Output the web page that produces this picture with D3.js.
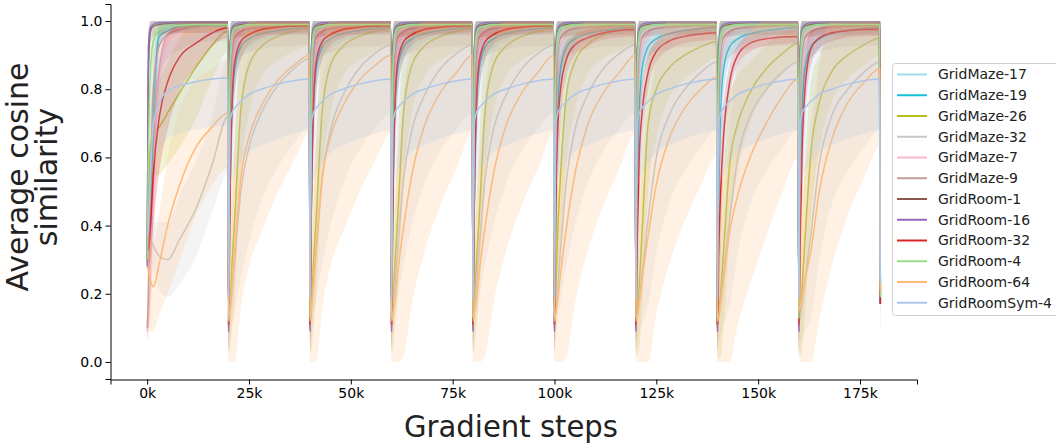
<!DOCTYPE html>
<html>
<head>
<meta charset="utf-8">
<script src="https://cdn.jsdelivr.net/npm/d3@7"></script>
<style>
	body { margin: 0; background: #fff; }
	svg { display: block; }
	text { font-family: "DejaVu Sans", sans-serif; }
</style>
</head>
<body>
<div id="chart"></div>
<script>
const offsets = [0, 300, 800, 1500, 3000, 5000, 8000, 12000, 16000, 19800];
const segmentStarts = [0, 20000, 40000, 60000, 80000, 100000, 120000, 140000, 160000];
const finalStep = 180000;

const seriesNames = [
	"GridMaze-17", "GridMaze-19", "GridMaze-26", "GridMaze-32", "GridMaze-7", "GridMaze-9",
	"GridRoom-1", "GridRoom-16", "GridRoom-32", "GridRoom-4", "GridRoom-64", "GridRoomSym-4"
];
const seriesColors = [
	"#9edae5", "#17becf", "#bcbd22", "#c7c7c7", "#f7b6d2", "#c49c94",
	"#8c564b", "#9467bd", "#d62728", "#98df8a", "#ffbb78", "#aec7e8"
];

const xTicks = [0, 25000, 50000, 75000, 100000, 125000, 150000, 175000];
const yTicks = [0, 0.2, 0.4, 0.6, 0.8, 1.0];

// rows: first segment, then later segments (last row repeats if fewer than 9)
const meanGM17 = [
	[0.37, 0.37, 0.37, 0.62, 0.97, 0.985, 0.99, 0.99, 0.992, 0.992],
	[0.13, 0.82, 0.95, 0.975, 0.985, 0.99, 0.99, 0.992, 0.992, 0.992]
];
const sdGM17 = [
	[0.04, 0.04, 0.04, 0.15, 0.03, 0.015, 0.01, 0.01, 0.008, 0.008],
	[0.1, 0.15, 0.05, 0.03, 0.015, 0.01, 0.01, 0.008, 0.008, 0.008]
];

const meanGM19 = [
	[0.36, 0.36, 0.37, 0.72, 0.955, 0.972, 0.982, 0.988, 0.99, 0.99],
	[0.12, 0.45, 0.74, 0.86, 0.925, 0.948, 0.962, 0.972, 0.978, 0.982]
];
const sdGM19 = [
	[0.04, 0.04, 0.04, 0.15, 0.03, 0.02, 0.015, 0.01, 0.01, 0.01],
	[0.1, 0.15, 0.12, 0.07, 0.04, 0.03, 0.022, 0.018, 0.016, 0.014]
];

const meanGM26 = [
	[0.30, 0.45, 0.63, 0.67, 0.69, 0.73, 0.79, 0.865, 0.93, 0.97],
	[0.11, 0.15, 0.28, 0.42, 0.74, 0.87, 0.925, 0.955, 0.97, 0.978],
	[0.11, 0.15, 0.28, 0.42, 0.74, 0.87, 0.925, 0.955, 0.97, 0.978],
	[0.11, 0.15, 0.28, 0.42, 0.74, 0.87, 0.925, 0.955, 0.97, 0.978],
	[0.11, 0.15, 0.28, 0.42, 0.74, 0.87, 0.925, 0.955, 0.97, 0.978],
	[0.11, 0.2, 0.38, 0.55, 0.79, 0.88, 0.93, 0.96, 0.972, 0.98],
	[0.11, 0.14, 0.22, 0.38, 0.70, 0.80, 0.86, 0.90, 0.925, 0.94],
	[0.11, 0.13, 0.2, 0.32, 0.58, 0.70, 0.79, 0.86, 0.905, 0.935],
	[0.11, 0.14, 0.22, 0.36, 0.62, 0.76, 0.85, 0.9, 0.93, 0.95]
];
const sdGM26 = [
	[0.05, 0.1, 0.12, 0.13, 0.14, 0.15, 0.16, 0.15, 0.1, 0.06],
	[0.08, 0.12, 0.18, 0.22, 0.2, 0.14, 0.09, 0.07, 0.06, 0.05]
];

const meanGM32 = [
	[0.37, 0.37, 0.36, 0.34, 0.31, 0.30, 0.36, 0.45, 0.58, 0.72],
	[0.12, 0.14, 0.2, 0.3, 0.50, 0.63, 0.73, 0.81, 0.86, 0.89],
	[0.12, 0.15, 0.22, 0.33, 0.54, 0.68, 0.78, 0.86, 0.905, 0.93],
	[0.12, 0.15, 0.22, 0.33, 0.54, 0.68, 0.78, 0.86, 0.905, 0.93],
	[0.12, 0.15, 0.22, 0.33, 0.54, 0.68, 0.78, 0.86, 0.905, 0.93],
	[0.12, 0.15, 0.22, 0.33, 0.54, 0.68, 0.78, 0.86, 0.905, 0.93],
	[0.12, 0.13, 0.18, 0.26, 0.42, 0.6, 0.72, 0.8, 0.85, 0.88],
	[0.12, 0.13, 0.18, 0.26, 0.42, 0.6, 0.72, 0.8, 0.85, 0.88],
	[0.12, 0.13, 0.17, 0.24, 0.38, 0.58, 0.72, 0.80, 0.85, 0.88]
];
const sdGM32 = [
	[0.04, 0.04, 0.05, 0.07, 0.1, 0.11, 0.13, 0.14, 0.14, 0.17],
	[0.08, 0.08, 0.1, 0.15, 0.25, 0.28, 0.26, 0.24, 0.22, 0.2]
];

const meanGM7 = [
	[0.09, 0.12, 0.25, 0.5, 0.86, 0.96, 0.98, 0.99, 0.99, 0.99],
	[0.1, 0.6, 0.85, 0.93, 0.965, 0.98, 0.985, 0.99, 0.99, 0.99]
];
const sdGM7 = [
	[0.02, 0.05, 0.12, 0.2, 0.1, 0.03, 0.015, 0.01, 0.01, 0.01],
	[0.08, 0.2, 0.1, 0.05, 0.025, 0.015, 0.012, 0.01, 0.01, 0.01]
];

const meanGM9 = [
	[0.1, 0.2, 0.5, 0.8, 0.93, 0.96, 0.975, 0.985, 0.99, 0.99],
	[0.1, 0.7, 0.9, 0.95, 0.97, 0.978, 0.982, 0.985, 0.987, 0.988]
];
const sdGM9 = [
	[0.03, 0.1, 0.2, 0.2, 0.1, 0.07, 0.06, 0.05, 0.05, 0.05],
	[0.1, 0.18, 0.12, 0.09, 0.075, 0.07, 0.065, 0.06, 0.06, 0.06]
];

const meanGR1 = [
	[0.3, 0.85, 0.97, 0.985, 0.99, 0.993, 0.995, 0.995, 0.995, 0.995],
	[0.11, 0.9, 0.975, 0.985, 0.99, 0.993, 0.995, 0.995, 0.995, 0.995]
];
const sdGR1 = [
	[0.05, 0.1, 0.04, 0.03, 0.03, 0.03, 0.03, 0.03, 0.03, 0.03],
	[0.1, 0.08, 0.04, 0.035, 0.035, 0.035, 0.035, 0.035, 0.035, 0.035]
];

const meanGR16 = [
	[0.28, 0.92, 0.98, 0.99, 0.995, 0.996, 0.997, 0.997, 0.997, 0.997],
	[0.09, 0.92, 0.98, 0.99, 0.995, 0.996, 0.997, 0.997, 0.997, 0.997]
];
const sdGR16 = [
	[0.05, 0.06, 0.02, 0.008, 0.005, 0.004, 0.003, 0.003, 0.003, 0.003]
];

const meanGR32 = [
	[0.33, 0.33, 0.40, 0.55, 0.72, 0.82, 0.895, 0.935, 0.965, 0.98],
	[0.11, 0.45, 0.74, 0.88, 0.94, 0.96, 0.975, 0.982, 0.985, 0.987],
	[0.11, 0.45, 0.74, 0.88, 0.94, 0.96, 0.975, 0.982, 0.985, 0.987],
	[0.11, 0.45, 0.74, 0.88, 0.94, 0.96, 0.975, 0.982, 0.985, 0.987],
	[0.11, 0.45, 0.74, 0.88, 0.94, 0.96, 0.975, 0.982, 0.985, 0.987],
	[0.11, 0.45, 0.68, 0.8, 0.89, 0.93, 0.95, 0.965, 0.972, 0.975],
	[0.11, 0.35, 0.6, 0.73, 0.85, 0.91, 0.94, 0.955, 0.962, 0.966],
	[0.11, 0.3, 0.5, 0.66, 0.82, 0.9, 0.935, 0.948, 0.953, 0.955],
	[0.11, 0.35, 0.62, 0.8, 0.92, 0.95, 0.965, 0.972, 0.975, 0.976]
];
const sdGR32 = [
	[0.03, 0.04, 0.1, 0.15, 0.16, 0.14, 0.1, 0.07, 0.04, 0.03],
	[0.05, 0.2, 0.18, 0.1, 0.05, 0.03, 0.025, 0.02, 0.02, 0.02]
];

const meanGR4 = [
	[0.3, 0.6, 0.85, 0.94, 0.975, 0.985, 0.988, 0.99, 0.99, 0.99],
	[0.13, 0.85, 0.96, 0.98, 0.985, 0.99, 0.99, 0.99, 0.99, 0.99]
];
const sdGR4 = [
	[0.05, 0.2, 0.12, 0.06, 0.02, 0.015, 0.01, 0.01, 0.01, 0.01],
	[0.08, 0.12, 0.04, 0.02, 0.01, 0.01, 0.01, 0.01, 0.01, 0.01]
];

const meanGR64 = [
	[0.28, 0.27, 0.24, 0.22, 0.29, 0.40, 0.52, 0.63, 0.69, 0.73],
	[0.12, 0.15, 0.22, 0.33, 0.54, 0.66, 0.75, 0.825, 0.87, 0.90],
	[0.12, 0.15, 0.22, 0.33, 0.54, 0.66, 0.75, 0.825, 0.87, 0.90],
	[0.12, 0.14, 0.18, 0.26, 0.40, 0.55, 0.69, 0.79, 0.85, 0.9],
	[0.12, 0.14, 0.18, 0.26, 0.40, 0.55, 0.69, 0.79, 0.85, 0.9],
	[0.12, 0.14, 0.18, 0.26, 0.40, 0.55, 0.69, 0.79, 0.85, 0.9],
	[0.12, 0.13, 0.17, 0.24, 0.37, 0.52, 0.65, 0.745, 0.80, 0.835],
	[0.12, 0.13, 0.17, 0.24, 0.38, 0.49, 0.6, 0.7, 0.78, 0.83],
	[0.15, 0.16, 0.19, 0.24, 0.33, 0.5, 0.65, 0.76, 0.82, 0.86]
];
const sdGR64 = [
	[0.17, 0.17, 0.15, 0.13, 0.15, 0.2, 0.22, 0.2, 0.17, 0.16],
	[0.12, 0.2, 0.3, 0.33, 0.38, 0.38, 0.37, 0.33, 0.28, 0.23]
];

const meanSym4 = [
	[0.37, 0.40, 0.55, 0.70, 0.76, 0.795, 0.81, 0.822, 0.83, 0.833],
	[0.19, 0.70, 0.73, 0.745, 0.765, 0.785, 0.80, 0.815, 0.825, 0.83]
];
const sdSym4 = [
	[0.04, 0.1, 0.12, 0.13, 0.14, 0.14, 0.14, 0.14, 0.14, 0.14],
	[0.05, 0.2, 0.2, 0.19, 0.18, 0.17, 0.165, 0.16, 0.155, 0.15]
];

// last logged point at 180k
const endMean = [0.2, 0.2, 0.18, 0.22, 0.17, 0.17, 0.17, 0.17, 0.17, 0.19, 0.21, 0.23];
const endSd = [0.1, 0.1, 0.1, 0.1, 0.1, 0.17, 0.1, 0.1, 0.1, 0.1, 0.12, 0.05];

const means = [meanGM17, meanGM19, meanGM26, meanGM32, meanGM7, meanGM9, meanGR1, meanGR16, meanGR32, meanGR4, meanGR64, meanSym4];
const sds = [sdGM17, sdGM19, sdGM26, sdGM32, sdGM7, sdGM9, sdGR1, sdGR16, sdGR32, sdGR4, sdGR64, sdSym4];

const width = 1056;
const height = 443;

const svg = d3.select("#chart")
	.append("svg")
	.attr("width", width)
	.attr("height", height);

const x = d3.scaleLinear()
	.domain([-9000, 189000])
	.range([110.5, 917]);

const y = d3.scaleLinear()
	.domain([-0.05, 1.05])
	.range([379, 4]);

const row = (rows, s) => rows[Math.min(s, rows.length - 1)];

const seriesPoints = means.map((rows, i) => {
	const pts = [];
	segmentStarts.forEach((start, s) => {
		const m = row(rows, s);
		const sd = row(sds[i], s);
		offsets.forEach((off, k) => pts.push({ step: start + off, m: m[k], sd: sd[k] }));
	});
	pts.push({ step: finalStep, m: endMean[i], sd: endSd[i] });
	return pts;
});

const line = d3.line()
	.x((d) => x(d.step))
	.y((d) => y(d.m))
	.curve(d3.curveMonotoneX);

const band = d3.area()
	.x((d) => x(d.step))
	.y0((d) => y(Math.max(0, d.m - d.sd)))
	.y1((d) => y(Math.min(1, d.m + d.sd)))
	.curve(d3.curveMonotoneX);

const plot = svg.append("g");

seriesPoints.forEach((pts, i) => {
	plot.append("path")
		.attr("d", line(pts))
		.attr("fill", "none")
		.attr("stroke", seriesColors[i])
		.attr("stroke-width", 1.5);
	plot.append("path")
		.attr("d", band(pts))
		.attr("fill", seriesColors[i])
		.attr("fill-opacity", 0.2)
		.attr("stroke", "none");
});

// axes
svg.append("g")
	.attr("transform", "translate(0,379.5)")
	.call(
		d3.axisBottom(x)
			.tickValues(xTicks)
			.tickFormat((d) => d / 1000 + "k")
			.tickSizeOuter(0)
			.tickSize(5)
			.tickPadding(4)
	);

svg.append("g")
	.attr("transform", "translate(110.5,0)")
	.call(
		d3.axisLeft(y)
			.tickValues(yTicks)
			.tickFormat(d3.format(".1f"))
			.tickSizeOuter(0)
			.tickSize(5)
			.tickPadding(3)
	);

svg.selectAll(".tick text")
	.attr("font-family", "DejaVu Sans")
	.attr("font-size", 14)
	.attr("fill", "#000");
svg.selectAll(".domain, .tick line").attr("stroke", "#000");

svg.append("text")
	.attr("x", 511)
	.attr("y", 437)
	.attr("text-anchor", "middle")
	.attr("font-family", "Open Sans")
	.attr("font-size", 30)
	.attr("fill", "#222")
	.attr("textLength", 214)
	.attr("lengthAdjust", "spacingAndGlyphs")
	.text("Gradient steps");

const yLabel = svg.append("g")
	.attr("transform", "translate(0,177) rotate(-90)");

yLabel.append("text")
	.attr("x", 0)
	.attr("y", 28)
	.attr("text-anchor", "middle")
	.attr("font-family", "Open Sans")
	.attr("font-size", 30)
	.attr("fill", "#222")
	.text("Average cosine");

yLabel.append("text")
	.attr("x", 0)
	.attr("y", 57)
	.attr("text-anchor", "middle")
	.attr("font-family", "Open Sans")
	.attr("font-size", 30)
	.attr("fill", "#222")
	.text("similarity");

// legend
const legend = svg.append("g")
	.attr("id", "legend");

legend.append("rect")
	.attr("x", 892.5)
	.attr("y", 63.5)
	.attr("width", 200)
	.attr("height", 252)
	.attr("rx", 3)
	.attr("fill", "#fff")
	.attr("fill-opacity", 0.8)
	.attr("stroke", "#d0d0d0");

const items = legend.selectAll(".item")
	.data(seriesNames)
	.enter()
	.append("g")
	.attr("class", "item")
	.attr("transform", (d, i) => "translate(0," + (74.5 + i * 20.75) + ")");

items.append("line")
	.attr("x1", 897)
	.attr("x2", 927)
	.attr("stroke", (d, i) => seriesColors[i])
	.attr("stroke-width", 2);

items.append("text")
	.attr("x", 938)
	.attr("dy", "0.35em")
	.attr("font-size", 14)
	.attr("fill", "#222")
	.text((d) => d);
</script>
</body>
</html>
